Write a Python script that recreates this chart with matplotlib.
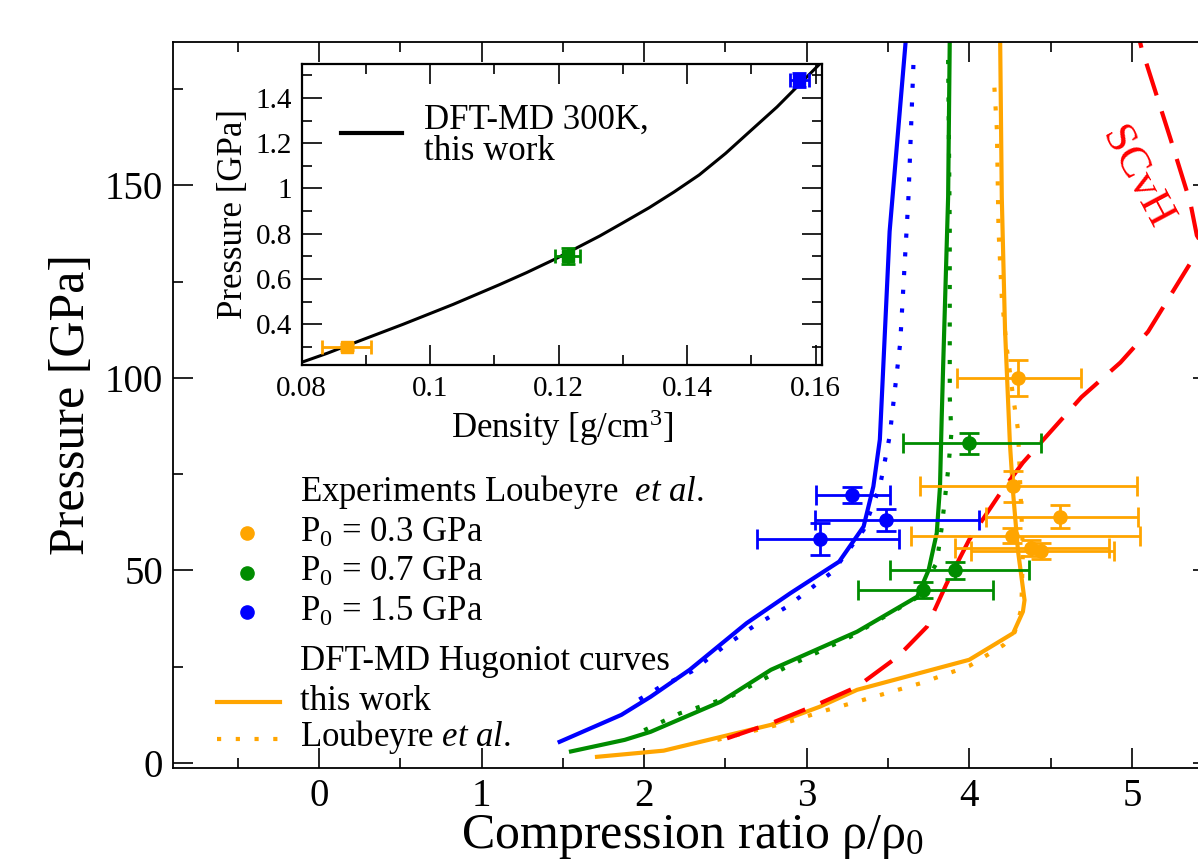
import matplotlib

matplotlib.use("Agg")
import matplotlib.pyplot as plt
from matplotlib.lines import Line2D
from matplotlib.ticker import MultipleLocator, FuncFormatter

plt.rcParams["font.family"] = ["Liberation Serif", "DejaVu Serif"]
plt.rcParams["mathtext.fontset"] = "custom"
plt.rcParams["mathtext.rm"] = "Liberation Serif"
plt.rcParams["mathtext.it"] = "Liberation Serif:italic"

ORANGE = "#ffa500"
GREEN = "#008c00"
BLUE = "#0000ff"
RED = "#ff0000"

# --- DFT-MD Hugoniot curves, this work (compression ratio, pressure GPa)
blue_this_x = [1.48, 1.86, 2.04, 2.28, 2.63, 2.90, 3.20, 3.35, 3.41, 3.45, 3.51, 3.61]
blue_this_y = [5.5, 12.5, 17.2, 24.2, 36.3, 44.1, 52.3, 61.4, 71.8, 84.0, 138.0, 188.0]
green_this_x = [1.55, 1.88, 2.04, 2.47, 2.78, 3.31, 3.68, 3.75, 3.80, 3.82, 3.83, 3.84, 3.87, 3.88]
green_this_y = [3.0, 6.0, 8.1, 15.9, 24.2, 34.1, 43.2, 50.1, 59.7, 71.8, 89.0, 104.0, 147.0, 188.0]
orange_this_x = [1.71, 2.12, 2.78, 3.08, 3.31, 4.00, 4.27, 4.33, 4.34, 4.30, 4.27, 4.25, 4.22, 4.20, 4.19]
orange_this_y = [1.6, 3.2, 9.9, 14.6, 19.0, 26.8, 33.7, 39.3, 42.3, 55.0, 70.0, 83.0, 112.5, 147.0, 188.0]

# --- Loubeyre et al. Hugoniot curves
blue_loub_x = [1.97, 2.10, 2.29, 2.49, 2.67, 2.88, 3.16, 3.35, 3.45, 3.49, 3.51, 3.575, 3.626, 3.657]
blue_loub_y = [16.5, 19.8, 23.7, 30.2, 35.4, 40.6, 49.7, 60.5, 71.8, 80.4, 84.8, 109.0, 147.0, 182.0]
green_loub_x = [2.00, 2.22, 2.53, 2.86, 3.27, 3.68, 3.80, 3.83, 3.87, 3.89, 3.88, 3.88, 3.87]
green_loub_y = [8.5, 12.9, 17.2, 24.6, 32.8, 43.0, 52.0, 61.0, 76.1, 85.6, 95.1, 138.4, 182.6]
orange_loub_x = [2.45, 2.86, 3.13, 3.35, 3.70, 4.00, 4.21, 4.28, 4.32, 4.33, 4.30, 4.27, 4.23, 4.20, 4.18, 4.17, 4.15]
orange_loub_y = [6.0, 10.3, 13.8, 16.4, 20.7, 25.2, 30.6, 34.0, 40.0, 55.0, 86.5, 95.0, 108.0, 121.0, 138.4, 164.4, 178.7]

# --- SCvH
scvh_x = [2.51, 2.78, 3.06, 3.31, 3.56, 3.74, 3.86, 4.00, 4.19, 4.33, 4.69, 4.93, 5.10,
          5.36, 5.45, 5.40, 5.36, 5.24, 5.06, 5.04]
scvh_y = [6.4, 10.3, 15.1, 19.8, 27.6, 35.4, 46.5, 58.0, 70.0, 78.0, 95.0, 104.0, 112.0,
          129.8, 133.5, 137.0, 145.5, 161.8, 185.6, 189.0]

# --- Experiments Loubeyre et al.
exp03_x = [4.30, 4.27, 4.56, 4.26, 4.38, 4.44]
exp03_y = [100.0, 71.8, 64.0, 59.0, 55.8, 55.0]
exp03_xlo = [0.375, 0.57, 0.46, 0.62, 0.47, 0.43]
exp03_xhi = [0.39, 0.76, 0.48, 0.79, 0.48, 0.45]
exp03_yerr = [4.6, 4.1, 3.0, 2.0, 2.0, 2.0]

exp07_x = [4.00, 3.91, 3.715]
exp07_y = [83.0, 50.0, 44.9]
exp07_xlo = [0.41, 0.40, 0.40]
exp07_xhi = [0.44, 0.46, 0.43]
exp07_yerr = [2.8, 2.3, 2.0]

exp15_x = [3.28, 3.49, 3.08]
exp15_y = [69.6, 63.1, 58.1]
exp15_xlo = [0.22, 0.44, 0.385]
exp15_xhi = [0.23, 0.57, 0.49]
exp15_yerr = [2.0, 2.9, 4.2]

# --- inset: 300 K isotherm and initial states
iso_rho = [0.080, 0.084, 0.087, 0.0958, 0.1036, 0.1108, 0.1150, 0.1196, 0.1264, 0.1300,
           0.1341, 0.1380, 0.1419, 0.1460, 0.1497, 0.1540, 0.1575, 0.1610]
iso_p = [0.232, 0.272, 0.305, 0.400, 0.488, 0.575, 0.628, 0.690, 0.790, 0.848,
         0.915, 0.985, 1.060, 1.155, 1.250, 1.360, 1.460, 1.560]
init_rho = [0.087, 0.1214, 0.1575]
init_p = [0.30, 0.70, 1.48]
init_rho_err = [0.0038, 0.002, 0.0015]
init_p_err = [0.012, 0.035, 0.03]
init_colors = [ORANGE, GREEN, BLUE]

fig = plt.figure(figsize=(11.98, 8.67), dpi=100)
ax = fig.add_axes([0.1442, 0.1142, 0.8684, 0.8377])

lw = 3.0
dot = (0, (1, 3.5))
ax.plot(blue_this_x, blue_this_y, color=BLUE, lw=lw)
ax.plot(blue_loub_x, blue_loub_y, color=BLUE, lw=lw, ls=dot)
ax.plot(green_this_x, green_this_y, color=GREEN, lw=lw)
ax.plot(green_loub_x, green_loub_y, color=GREEN, lw=lw, ls=dot)
ax.plot(orange_this_x, orange_this_y, color=ORANGE, lw=lw)
ax.plot(orange_loub_x, orange_loub_y, color=ORANGE, lw=lw, ls=dot)
ax.plot(scvh_x, scvh_y, color=RED, lw=lw, ls=(0, (8, 4)))

for xs, ys, xlo, xhi, yerr, c in [
    (exp03_x, exp03_y, exp03_xlo, exp03_xhi, exp03_yerr, ORANGE),
    (exp07_x, exp07_y, exp07_xlo, exp07_xhi, exp07_yerr, GREEN),
    (exp15_x, exp15_y, exp15_xlo, exp15_xhi, exp15_yerr, BLUE),
]:
    ax.errorbar(xs, ys, xerr=[xlo, xhi], yerr=yerr, fmt="o", color=c, ms=9.5,
                elinewidth=2, capsize=7, capthick=2)

ax.text(5.03, 152, "SCvH", color=RED, fontsize=32, rotation=-62,
        ha="center", va="center", rotation_mode="anchor")

ax.set_xlim(-0.9, 5.5)
ax.set_ylim(-1.3, 187.3)
ax.xaxis.set_major_locator(MultipleLocator(1))
ax.xaxis.set_minor_locator(MultipleLocator(0.5))
ax.yaxis.set_major_locator(MultipleLocator(50))
ax.yaxis.set_minor_locator(MultipleLocator(25))
ax.tick_params(which="both", direction="in", top=True, right=True, width=1.2, labelsize=28)
ax.tick_params(which="major", length=14.4)
ax.tick_params(which="minor", length=7.2)
ax.tick_params(axis="x", pad=7)
ax.tick_params(axis="y", pad=7)
for s in ax.spines.values():
    s.set_linewidth(1.3)
ax.set_xlabel("Compression ratio ρ/ρ$_0$", fontsize=36)
ax.set_ylabel("Pressure [GPa]", fontsize=36)
ax.xaxis.set_label_coords(0.5, -0.062)
ax.yaxis.set_label_coords(-0.075, 0.5)

# legend, drawn by hand to follow the original spacing
tx = 0.122
ax.text(tx, 0.3804, r"Experiments Loubeyre  $\mathit{et\ al.}$", transform=ax.transAxes,
        fontsize=25, va="center")
for yy, c, lab in [(0.3231, ORANGE, "0.3"), (0.2689, GREEN, "0.7"), (0.2144, BLUE, "1.5")]:
    ax.add_line(Line2D([0.0717], [yy], transform=ax.transAxes, marker="o", ms=9.5,
                       color=c, ls="none"))
    ax.text(tx, yy, "P$_0$ = %s GPa" % lab, transform=ax.transAxes, fontsize=25, va="center")
ax.text(tx, 0.1464, "DFT-MD Hugoniot curves", transform=ax.transAxes, fontsize=25, va="center")
ax.add_line(Line2D([0.0426, 0.1027], [0.0913, 0.0913], transform=ax.transAxes,
                   color=ORANGE, lw=lw))
ax.text(tx, 0.0913, "this work", transform=ax.transAxes, fontsize=25, va="center")
ax.add_line(Line2D([0.0426, 0.1027], [0.0395, 0.0395], transform=ax.transAxes,
                   color=ORANGE, lw=lw, ls=dot))
ax.text(tx, 0.0431, r"Loubeyre $\mathit{et\ al.}$", transform=ax.transAxes,
        fontsize=25, va="center")

# inset
ins = fig.add_axes([0.2518, 0.579, 0.4343, 0.3472])
ins.plot(iso_rho, iso_p, color="black", lw=2.2)
for r, p, re, pe, c in zip(init_rho, init_p, init_rho_err, init_p_err, init_colors):
    ins.errorbar([r], [p], xerr=[re], yerr=[pe], fmt="s", color=c, ms=9,
                 elinewidth=2, capsize=5, capthick=2)
ins.set_xlim(0.08, 0.161)
ins.set_ylim(0.22, 1.55)
ins.xaxis.set_major_locator(MultipleLocator(0.02))
ins.xaxis.set_minor_locator(MultipleLocator(0.01))
ins.yaxis.set_major_locator(MultipleLocator(0.2))
ins.yaxis.set_minor_locator(MultipleLocator(0.1))
fmt = FuncFormatter(lambda v, pos: "%g" % round(v, 3))
ins.xaxis.set_major_formatter(fmt)
ins.yaxis.set_major_formatter(fmt)
ins.tick_params(which="both", direction="in", top=True, right=True, width=1.2, labelsize=21)
ins.tick_params(which="major", length=14.4)
ins.tick_params(which="minor", length=7.2)
ins.tick_params(axis="x", pad=8)
ins.tick_params(axis="y", pad=7)
for s in ins.spines.values():
    s.set_linewidth(1.6)
ins.set_xlabel("Density [g/cm$^3$]", fontsize=25)
ins.set_ylabel("Pressure [GPa]", fontsize=25)
ins.add_line(Line2D([0.075, 0.193], [0.771, 0.771], transform=ins.transAxes,
                    color="black", lw=3))
ins.text(0.235, 0.761, "DFT-MD 300K,\nthis work", transform=ins.transAxes, fontsize=25,
         va="center", linespacing=0.95)

fig.savefig("out.png", dpi=100)
